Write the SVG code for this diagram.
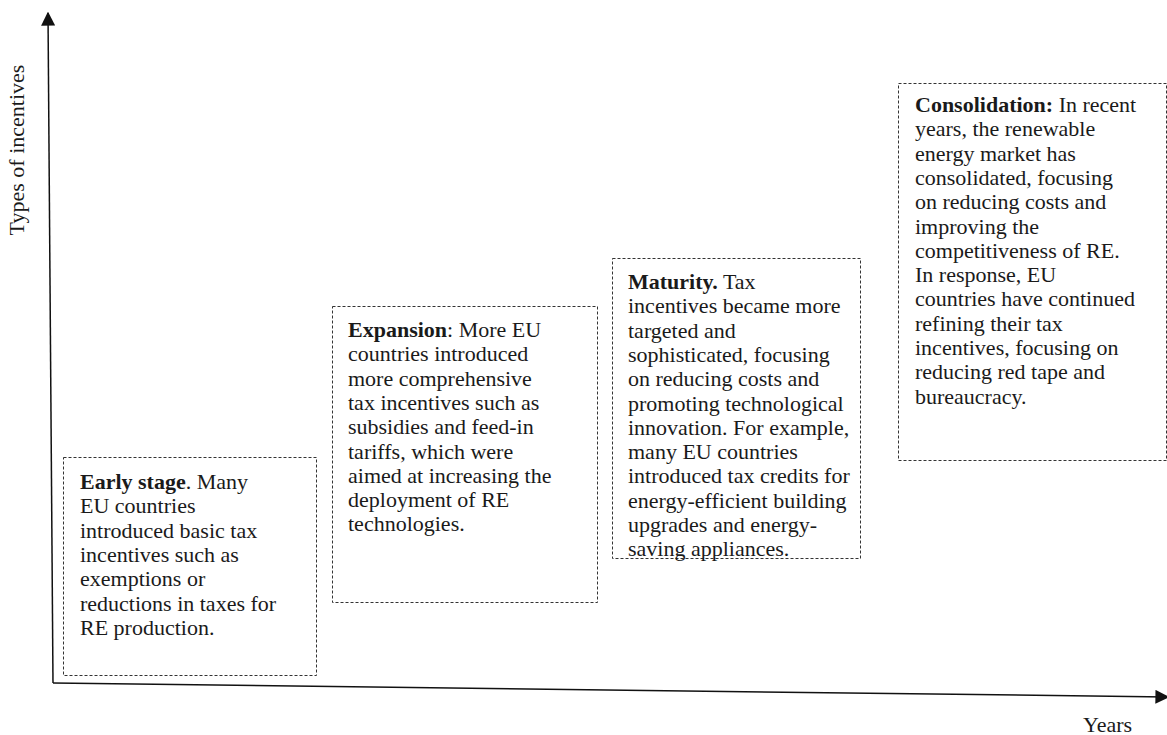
<svg xmlns="http://www.w3.org/2000/svg" width="1167" height="735" viewBox="0 0 1167 735">
  <style>
    .box { fill: #ffffff; stroke: #333333; stroke-width: 1; stroke-dasharray: 3 2; }
    .txt { font-family: "Liberation Serif", "Times New Roman", serif; font-size: 22px; fill: #1a1a1a; }
    .b { font-weight: bold; }
    .axis { stroke: #111111; stroke-width: 1.5; fill: none; }
  </style>
  <defs>
    <marker id="arrowBig" viewBox="0 0 10 10" refX="9" refY="5" markerWidth="14" markerHeight="14" markerUnits="userSpaceOnUse" orient="auto">
      <path d="M0,0 L10,5 L0,10 Z" fill="#111111"/>
    </marker>
  </defs>

  <!-- axes -->
  <g id="connectors">
    <line class="axis" x1="53" y1="683" x2="48" y2="13" marker-end="url(#arrowBig)"/>
    <line class="axis" x1="53" y1="683" x2="1168" y2="697" marker-end="url(#arrowBig)"/>
  </g>

  <g id="axis-labels">
    <text class="txt" transform="translate(24,150) rotate(-90)" text-anchor="middle">Types of incentives</text>
    <text class="txt" x="1083" y="732">Years</text>
  </g>

  <g id="early-stage">
    <rect class="box" x="63.5" y="457.5" width="253" height="218"/>
    <text class="txt" x="80" y="489">
      <tspan class="b">Early stage</tspan>. Many
      <tspan x="80" dy="24.3">EU countries</tspan>
      <tspan x="80" dy="24.3">introduced basic tax</tspan>
      <tspan x="80" dy="24.3">incentives such as</tspan>
      <tspan x="80" dy="24.3">exemptions or</tspan>
      <tspan x="80" dy="24.3">reductions in taxes for</tspan>
      <tspan x="80" dy="24.3">RE production.</tspan>
    </text>
  </g>

  <g id="expansion">
    <rect class="box" x="332.5" y="306.5" width="265" height="296"/>
    <text class="txt" x="348" y="337">
      <tspan class="b">Expansion</tspan>: More EU
      <tspan x="348" dy="24.3">countries introduced</tspan>
      <tspan x="348" dy="24.3">more comprehensive</tspan>
      <tspan x="348" dy="24.3">tax incentives such as</tspan>
      <tspan x="348" dy="24.3">subsidies and feed-in</tspan>
      <tspan x="348" dy="24.3">tariffs, which were</tspan>
      <tspan x="348" dy="24.3">aimed at increasing the</tspan>
      <tspan x="348" dy="24.3">deployment of RE</tspan>
      <tspan x="348" dy="24.3">technologies.</tspan>
    </text>
  </g>

  <g id="maturity">
    <rect class="box" x="612.5" y="258.5" width="248" height="300"/>
    <text class="txt" x="628" y="289">
      <tspan class="b">Maturity.</tspan> Tax
      <tspan x="628" dy="24.3">incentives became more</tspan>
      <tspan x="628" dy="24.3">targeted and</tspan>
      <tspan x="628" dy="24.3">sophisticated, focusing</tspan>
      <tspan x="628" dy="24.3">on reducing costs and</tspan>
      <tspan x="628" dy="24.3">promoting technological</tspan>
      <tspan x="628" dy="24.3">innovation. For example,</tspan>
      <tspan x="628" dy="24.3">many EU countries</tspan>
      <tspan x="628" dy="24.3">introduced tax credits for</tspan>
      <tspan x="628" dy="24.3">energy-efficient building</tspan>
      <tspan x="628" dy="24.3">upgrades and energy-</tspan>
      <tspan x="628" dy="24.3">saving appliances.</tspan>
    </text>
  </g>

  <g id="consolidation">
    <rect class="box" x="898.5" y="83.5" width="268" height="377"/>
    <text class="txt" x="915" y="112">
      <tspan class="b">Consolidation:</tspan> In recent
      <tspan x="915" dy="24.3">years, the renewable</tspan>
      <tspan x="915" dy="24.3">energy market has</tspan>
      <tspan x="915" dy="24.3">consolidated, focusing</tspan>
      <tspan x="915" dy="24.3">on reducing costs and</tspan>
      <tspan x="915" dy="24.3">improving the</tspan>
      <tspan x="915" dy="24.3">competitiveness of RE.</tspan>
      <tspan x="915" dy="24.3">In response, EU</tspan>
      <tspan x="915" dy="24.3">countries have continued</tspan>
      <tspan x="915" dy="24.3">refining their tax</tspan>
      <tspan x="915" dy="24.3">incentives, focusing on</tspan>
      <tspan x="915" dy="24.3">reducing red tape and</tspan>
      <tspan x="915" dy="24.3">bureaucracy.</tspan>
    </text>
  </g>
</svg>
